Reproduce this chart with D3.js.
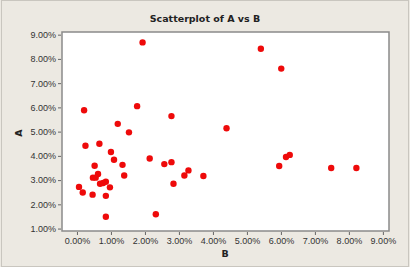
<!DOCTYPE html>
<html>
<head>
<meta charset="utf-8">
<script src="https://cdn.jsdelivr.net/npm/d3@7"></script>
<style>
    body { margin: 0; background: #ece9e2; }
    svg { display: block; font-family: "DejaVu Sans", sans-serif; }
</style>
</head>
<body>
<div id="chart"></div>
<script>
// B values (x), in percent
let bValues = [0.21, 1.93, 5.41, 6.01, 1.77, 2.78, 1.20, 4.40, 1.53,
    0.25, 0.66, 1.00, 1.09, 1.34, 1.39, 0.52, 0.62, 0.47, 0.55,
    0.06, 0.17, 0.46, 0.68, 0.77, 0.85, 0.97, 0.85, 0.85,
    2.14, 2.32, 2.57, 2.78, 2.84, 3.16, 3.28, 3.72,
    5.95, 6.15, 6.26, 7.48, 8.22];
// A values (y), in percent
let aValues = [5.88, 8.68, 8.42, 7.60, 6.05, 5.64, 5.32, 5.14, 4.97,
    4.42, 4.50, 4.16, 3.84, 3.63, 3.19, 3.59, 3.25, 3.10, 3.10,
    2.72, 2.49, 2.40, 2.85, 2.88, 2.93, 2.70, 2.35, 1.49,
    3.89, 1.59, 3.66, 3.74, 2.85, 3.19, 3.40, 3.17,
    3.58, 3.95, 4.04, 3.50, 3.50];
let xTicks = [0, 1, 2, 3, 4, 5, 6, 7, 8, 9];
let yTicks = [1, 2, 3, 4, 5, 6, 7, 8, 9];

let width = 410, height = 267;
let plot = { left: 62, top: 32, right: 389, bottom: 231 };

let svg = d3.select("#chart")
    .append("svg")
    .attr("width", width)
    .attr("height", height);

// outer frame
svg.append("rect")
    .attr("x", 1.5).attr("y", 0.5)
    .attr("width", width - 3).attr("height", height - 1)
    .attr("fill", "#ece9e2")
    .attr("stroke", "#c9c6bf");

let x = d3.scaleLinear()
    .domain([-0.44, 9.18])
    .range([plot.left, plot.right]);

let y = d3.scaleLinear()
    .domain([0.9, 9.11])
    .range([plot.bottom, plot.top]);

svg.append("rect")
    .attr("x", plot.left).attr("y", plot.top)
    .attr("width", plot.right - plot.left)
    .attr("height", plot.bottom - plot.top)
    .attr("fill", "#fff")
    .attr("stroke", "#8a8a8a")
    .attr("stroke-width", 1.5);

let fmt = function (d) { return d.toFixed(2) + "%"; };

// x axis
let xAxis = svg.append("g")
    .attr("transform", "translate(0," + (plot.bottom + 1) + ")")
    .call(d3.axisBottom(x).tickValues(xTicks).tickFormat(fmt).tickSize(3).tickPadding(3));
xAxis.select(".domain").remove();

// y axis
let yAxis = svg.append("g")
    .attr("transform", "translate(" + (plot.left - 1) + ",0)")
    .call(d3.axisLeft(y).tickValues(yTicks).tickFormat(fmt).tickSize(3).tickPadding(2));
yAxis.select(".domain").remove();

svg.selectAll(".tick line").attr("stroke", "#666");
svg.selectAll(".tick text")
    .attr("fill", "#333")
    .style("font-size", "9px");

// points
svg.append("g")
    .selectAll("circle")
    .data(bValues)
    .enter()
    .append("circle")
    .attr("cx", function (d) { return x(d); })
    .attr("cy", function (d, i) { return y(aValues[i]); })
    .attr("r", 3.2)
    .attr("fill", "#ee0a0a");

// title and labels
svg.append("text")
    .attr("x", 205).attr("y", 22)
    .attr("text-anchor", "middle")
    .style("font-size", "9.5px")
    .style("font-weight", "bold")
    .attr("fill", "#222")
    .text("Scatterplot of A vs B");

svg.append("text")
    .attr("x", 225).attr("y", 257)
    .attr("text-anchor", "middle")
    .style("font-size", "9.5px")
    .style("font-weight", "bold")
    .attr("fill", "#222")
    .text("B");

svg.append("text")
    .attr("transform", "translate(22,133) rotate(-90)")
    .attr("text-anchor", "middle")
    .style("font-size", "9.5px")
    .style("font-weight", "bold")
    .attr("fill", "#222")
    .text("A");
</script>
</body>
</html>
